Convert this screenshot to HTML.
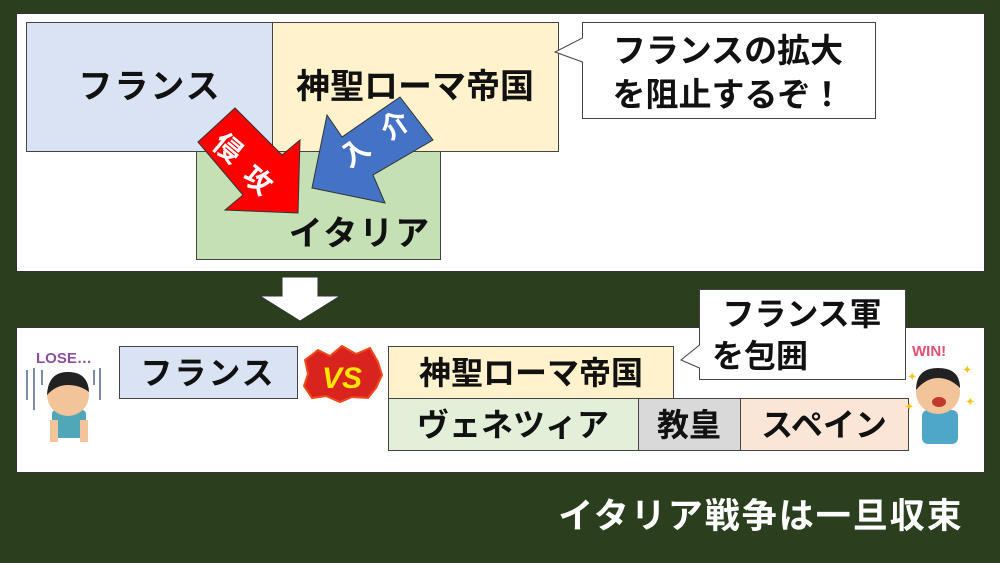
<!DOCTYPE html>
<html><head><meta charset="utf-8"><style>
html,body{margin:0;padding:0;background:#2b3e1e;}
svg{display:block;}
text{font-family:"Liberation Sans","Noto Sans CJK JP",sans-serif;font-weight:bold;}
</style></head><body>
<svg width="1000" height="563" viewBox="0 0 1000 563" xmlns="http://www.w3.org/2000/svg">
<rect width="1000" height="563" fill="#2b3e1e"/>
<!-- top panel -->
<rect x="16.5" y="13.5" width="968" height="258" fill="#fff" stroke="#333" stroke-width="1"/>
<rect x="26.5" y="22.5" width="246" height="129" fill="#dae3f3" stroke="#444"/>
<rect x="272.5" y="22.5" width="286" height="129" fill="#fff2cc" stroke="#444"/>
<rect x="196.5" y="151.5" width="244" height="108" fill="#c5e0b4" stroke="#444"/>
<text x="150" y="98" font-size="34" text-anchor="middle" fill="#111" letter-spacing="2">フランス</text>
<text x="415" y="98" font-size="34" text-anchor="middle" fill="#111">神聖ローマ帝国</text>
<text x="360" y="245" font-size="34" text-anchor="middle" fill="#111" letter-spacing="2">イタリア</text>
<!-- red arrow -->
<polygon points="198,142 235,108 282,155 300,140 298,213 225,210 243,195" fill="#ff0000" stroke="#333" stroke-width="1"/>
<text x="228" y="158" font-size="28" fill="#fff" text-anchor="middle" transform="rotate(40 228 148)">侵</text>
<text x="258" y="190" font-size="28" fill="#fff" text-anchor="middle" transform="rotate(40 258 180)">攻</text>
<!-- blue arrow -->
<polygon points="327,115 342,137 400,97 433,140 373,175 385,203 312,188" fill="#4472c4" stroke="#333" stroke-width="1"/>
<text x="395" y="135" font-size="28" fill="#fff" text-anchor="middle" transform="rotate(-35 395 125)">介</text>
<text x="355" y="162" font-size="28" fill="#fff" text-anchor="middle" transform="rotate(-35 355 152)">入</text>
<!-- bubble 1 -->
<polygon points="582.5,22.5 875.5,22.5 875.5,118.5 582.5,118.5 582.5,62 555,52 582.5,38" fill="#fff" stroke="#444"/>
<text x="728" y="62" font-size="33" text-anchor="middle" fill="#111">フランスの拡大</text>
<text x="728" y="106" font-size="33" text-anchor="middle" fill="#111">を阻止するぞ！</text>
<!-- down arrow -->
<polygon points="282,277 318,277 318,296 340,296 300,321 260,296 282,296" fill="#fff" stroke="#333"/>
<!-- bottom panel -->
<rect x="16.5" y="327.5" width="968" height="145" fill="#fff" stroke="#333"/>
<rect x="119.5" y="346.5" width="178" height="52" fill="#dae3f3" stroke="#444"/>
<text x="208" y="384" font-size="32" text-anchor="middle" fill="#111" letter-spacing="2">フランス</text>
<rect x="388.5" y="346.5" width="285" height="52" fill="#fff2cc" stroke="#444"/>
<text x="531" y="384" font-size="32" text-anchor="middle" fill="#111">神聖ローマ帝国</text>
<rect x="388.5" y="398.5" width="250" height="52" fill="#e2f0d9" stroke="#444"/>
<text x="513" y="436" font-size="32" text-anchor="middle" fill="#111">ヴェネツィア</text>
<rect x="638.5" y="398.5" width="102" height="52" fill="#d9d9d9" stroke="#444"/>
<text x="689" y="436" font-size="32" text-anchor="middle" fill="#111">教皇</text>
<rect x="740.5" y="398.5" width="168" height="52" fill="#fbe5d6" stroke="#444"/>
<text x="824" y="436" font-size="32" text-anchor="middle" fill="#111">スペイン</text>
<!-- VS -->
<polygon points="305,360 318,350 330,356 342,346 356,354 370,348 378,362 382,375 376,388 368,398 352,397 340,402 326,396 312,398 304,386 308,374" fill="#d9231f" stroke="#f04a1c" stroke-width="2"/>
<text x="342" y="388" font-size="30" text-anchor="middle" fill="#ffe600" font-style="italic">VS</text>
<!-- bubble 2 -->
<polygon points="699.5,289.5 905.5,289.5 905.5,379.5 699.5,379.5 699.5,368 681,360 699.5,345" fill="#fff" stroke="#444"/>
<text x="802" y="325" font-size="32" text-anchor="middle" fill="#111">フランス軍</text>
<text x="760" y="367" font-size="32" text-anchor="middle" fill="#111">を包囲</text>
<!-- lose figure -->
<text x="36" y="363" font-size="15" fill="#8e4fa0">LOSE…</text>
<g stroke="#7b8cab" stroke-width="2"><line x1="27" y1="370" x2="27" y2="400"/><line x1="34" y1="368" x2="34" y2="410"/><line x1="42" y1="370" x2="42" y2="385"/><line x1="94" y1="370" x2="94" y2="385"/><line x1="100" y1="368" x2="100" y2="400"/></g>
<rect x="52" y="410" width="34" height="28" rx="4" fill="#4fa7b8"/>
<rect x="50" y="420" width="8" height="22" fill="#f3c39a"/><rect x="80" y="420" width="8" height="22" fill="#f3c39a"/>
<circle cx="68" cy="395" r="21" fill="#f3c39a"/>
<path d="M47,395 Q48,372 68,372 Q88,372 89,392 Q80,385 68,385 Q56,385 47,395Z" fill="#222"/>
<!-- win figure -->
<text x="912" y="356" font-size="15" fill="#e05070">WIN!</text>
<rect x="922" y="410" width="36" height="34" rx="6" fill="#4fa7c8"/>
<circle cx="938" cy="392" r="22" fill="#f3c39a"/>
<path d="M916,390 Q916,368 938,368 Q960,368 960,388 Q950,378 938,378 Q926,378 916,390Z" fill="#222"/>
<ellipse cx="939" cy="402" rx="7" ry="5" fill="#c0392b"/>
<g fill="#f5c518" font-size="10"><text x="908" y="380">✦</text><text x="905" y="410">✦</text><text x="963" y="373">✦</text><text x="966" y="405">✦</text></g>
<!-- bottom text -->
<text x="761" y="528" font-size="35" text-anchor="middle" fill="#fff" letter-spacing="2">イタリア戦争は一旦収束</text>
</svg>
</body></html>
